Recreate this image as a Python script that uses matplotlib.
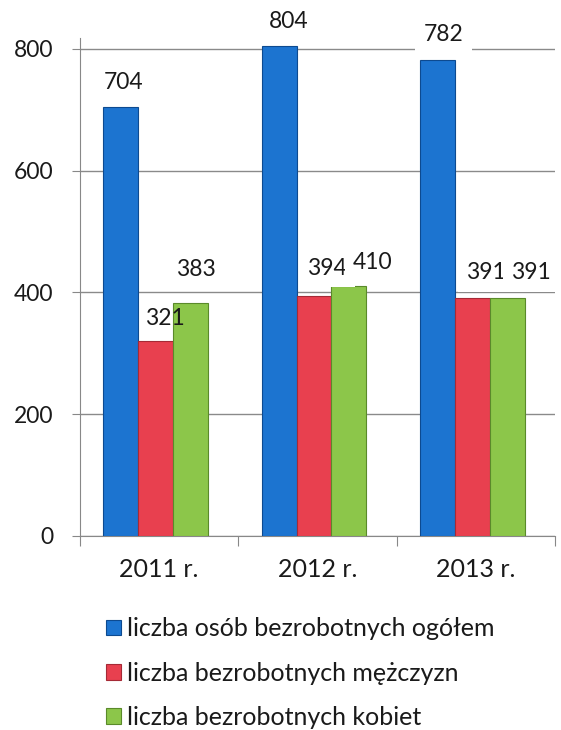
import numpy as np
import matplotlib.pyplot as plt

years = ['2011 r.', '2012 r.', '2013 r.']
ogolem = [704, 804, 782]
mezczyzni = [321, 394, 391]
kobiety = [383, 410, 391]
labels = ['liczba osób bezrobotnych ogółem',
          'liczba bezrobotnych mężczyzn',
          'liczba bezrobotnych kobiet']

colors = ['#1c74d0', '#e8404f', '#8cc64a']
edges = ['#0d4a90', '#a52a36', '#5a8a2a']

# label offsets in pixels (dx, dy) from top of each bar
offsets = [
    [(3, 25), (10, 25), (6, 25)],
    [(9, 22), (13, 28), (14, 25)],
    [(5, 33), (24, 24), (24, 25)],
]

plt.rcParams['font.family'] = ['Lato', 'DejaVu Sans']

fig = plt.figure(figsize=(5.61, 7.30), dpi=100)
ax = fig.add_axes([0.1426, 0.2658, 0.8467, 0.6822])

x = np.arange(len(years))
w = 0.22
series = [ogolem, mezczyzni, kobiety]
for i, vals in enumerate(series):
    pos = x + (i - 1) * w - 0.022
    ax.bar(pos, vals, width=w, color=colors[i], edgecolor=edges[i],
           linewidth=0.8, label=labels[i], zorder=3)
    for j, v in enumerate(vals):
        dx, dy = offsets[i][j]
        bbox = None if (i == 1 and j == 0) else dict(facecolor='white', edgecolor='none', pad=6)
        ax.annotate(str(v), xy=(pos[j], v), xytext=(dx, dy), textcoords='offset pixels',
                    ha='center', va='center', fontsize=16.5, color='#1a1a1a',
                    bbox=bbox, zorder=4, annotation_clip=False)

ax.set_xlim(-0.5, 2.5)
ax.set_ylim(0, 818)
ax.set_yticks([0, 200, 400, 600, 800])
ax.tick_params(axis='y', labelsize=16.5, length=6, color='#888888', pad=13, labelcolor='#1a1a1a')
ax.yaxis.grid(True, color='#8a8a8a', linewidth=1.0, zorder=0)

ax.set_xticks([-0.5, 0.5, 1.5, 2.5])
ax.set_xticklabels([])
ax.set_xticks(x, minor=True)
ax.set_xticklabels(years, minor=True)
ax.tick_params(axis='x', which='major', length=7, color='#888888')
ax.tick_params(axis='x', which='minor', length=0, labelsize=18, pad=16, labelcolor='#1a1a1a')

for s in ['top', 'right']:
    ax.spines[s].set_visible(False)
for s in ['left', 'bottom']:
    ax.spines[s].set_color('#888888')

ax.legend(loc='upper left', bbox_to_anchor=(0.171, 0.168), bbox_transform=fig.transFigure,
          frameon=False, fontsize=18, handlelength=0.6, handleheight=0.6,
          handletextpad=0.26, labelspacing=0.85, borderaxespad=0, labelcolor='#1a1a1a')

fig.savefig('out.png', dpi=100)
